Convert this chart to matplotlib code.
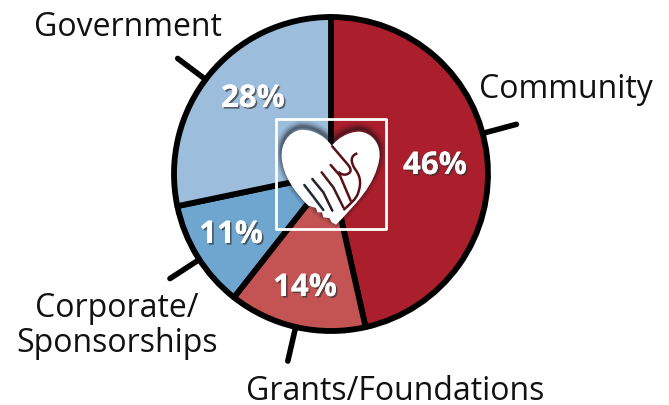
import numpy as np
import matplotlib
matplotlib.use("Agg")
import matplotlib.pyplot as plt
import matplotlib.patheffects as pe
from matplotlib.path import Path
from matplotlib.patches import PathPatch, Rectangle

categories = ["Community", "Grants/Foundations", "Corporate/\nSponsorships", "Government"]
values = [46, 14, 11, 28]
percent_labels = ["46%", "14%", "11%", "28%"]
colors = ["#AB1E2B", "#C45454", "#6EA6D0", "#9DBDDD"]

# layout in pixels of the 669x406 picture, y measured from the top
H = 406
center = (331, 175)
radius = 157
percent_pos = [(435, 167), (305, 289), (231, 236), (253, 100)]
label_pos = [(566, 90), (395, 392), (117, 326), (128, 27)]
tick_angles = [75, 193, 237, 307]

plt.rcParams['font.family'] = ['Open Sans', 'DejaVu Sans']

fig = plt.figure(figsize=(6.69, 4.06), dpi=100)
ax = fig.add_axes([0, 0, 1, 1])

ax.pie(values, colors=colors, startangle=90, counterclock=False, center=(center[0], H - center[1]), radius=radius,
       wedgeprops=dict(edgecolor="black", linewidth=4.2, joinstyle="round"))
ax.set_xlim(0, 669)
ax.set_ylim(0, H)
ax.set_aspect("equal")
ax.axis("off")

for a in tick_angles:
    t = np.radians(a)
    x = [center[0] + radius*np.sin(t), center[0] + 192*np.sin(t)]
    y = [H - center[1] + radius*np.cos(t), H - center[1] + 192*np.cos(t)]
    ax.plot(x, y, color="black", lw=4, solid_capstyle="round", zorder=1)

for s, p in zip(percent_labels, percent_pos):
    ax.text(p[0], H - p[1], s, color="white", fontsize=22.5, fontweight="bold", ha="center", va="center",
            path_effects=[pe.withSimplePatchShadow(offset=(1.2, -1.2), shadow_rgbFace="#333333", alpha=0.7),
                          pe.Normal()], zorder=8)

for s, p in zip(categories, label_pos):
    ax.text(p[0], H - p[1], s, color="#111111", fontsize=23, ha="center", va="center", linespacing=1.05)


def z(q):
    return (260 + q[0]/3, H - (105 + q[1]/3))


heart_verts = [(215, 125),
               (190, 90), (150, 75), (120, 78),
               (85, 85), (62, 120), (65, 160),
               (68, 215), (105, 265), (145, 305),
               (168, 312), (172, 325), (186, 325), (190, 340), (208, 342), (215, 355), (228, 362), (245, 345),
               (285, 300), (345, 245), (358, 165),
               (365, 120), (335, 85), (298, 83),
               (262, 83), (232, 105), (215, 125)]
heart_codes = [Path.MOVETO] + [Path.CURVE4]*9 + [Path.LINETO]*8 + [Path.CURVE4]*9
heart_path = Path([z(q) for q in heart_verts], heart_codes)

# soft dark glow, only shows along the top of the heart
up = Path(heart_path.vertices + [0, 3], heart_path.codes)
for w, al in zip([9, 6, 4, 2], [0.10, 0.14, 0.18, 0.25]):
    ax.add_patch(PathPatch(up, fc="none", ec="#101018", lw=w, alpha=al, zorder=4, joinstyle="round"))
ax.add_patch(PathPatch(heart_path, fc="white", ec="none", zorder=5))

finger_lines = [
    [(133, 243), (160, 278), (190, 318)],
    [(157, 225), (190, 265), (217, 320)],
    [(185, 205), (220, 250), (250, 310)],
    [(212, 183), (240, 215), (272, 290)],
]
finger_cols = ["#1d2a3a", "#2a2030", "#4a1820", "#5a1018"]
for ln, col in zip(finger_lines, finger_cols):
    pts = [z(q) for q in ln]
    ax.plot([q[0] for q in pts], [q[1] for q in pts], color=col, lw=1.8, solid_capstyle="round", zorder=6)

thumb_verts = [(215, 125), (262, 180), (280, 200), (270, 210), (255, 212), (245, 212), (240, 208), (235, 203)]
thumb_codes = [Path.MOVETO, Path.LINETO] + [Path.CURVE4]*6
wrist_verts = [(292, 148), (270, 155), (272, 175), (285, 195), (300, 215), (305, 235), (295, 265),
               (290, 285), (265, 305), (250, 318)]
wrist_codes = [Path.MOVETO] + [Path.CURVE4]*9
for verts, codes in [(thumb_verts, thumb_codes), (wrist_verts, wrist_codes)]:
    ax.add_patch(PathPatch(Path([z(q) for q in verts], codes), fc="none", ec="#5a1018", lw=1.8, zorder=6))

x0, y0 = z((47, 375))
x1, y1 = z((378, 45))
ax.add_patch(Rectangle((x0, y0), x1 - x0, y1 - y0, fc="none", ec="white", lw=2, zorder=7, joinstyle="round"))

fig.savefig("out.png", dpi=100)
